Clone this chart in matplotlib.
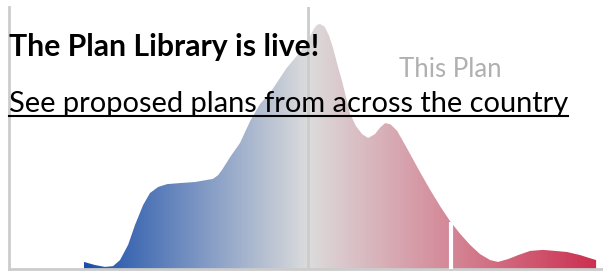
import numpy as np
import matplotlib
matplotlib.use("Agg")
import matplotlib.pyplot as plt
from matplotlib.colors import LinearSegmentedColormap
from matplotlib.lines import Line2D

# distribution of plan scores (x = score, y = relative density)
score = [-0.747, -0.71, -0.677, -0.65, -0.627, -0.60, -0.577, -0.55, -0.527, -0.50,
         -0.47, -0.427, -0.377, -0.317, -0.30, -0.287, -0.26, -0.227, -0.193, -0.16,
         -0.127, -0.10, -0.073, -0.027, 0.0, 0.007, 0.02, 0.03, 0.04, 0.055, 0.07,
         0.083, 0.10, 0.113, 0.14, 0.16, 0.18, 0.20, 0.223, 0.24, 0.257, 0.275, 0.297,
         0.33, 0.373, 0.407, 0.44, 0.473, 0.507, 0.54, 0.573, 0.607, 0.633, 0.667,
         0.70, 0.74, 0.783, 0.823, 0.863, 0.907, 0.96]
density = [0.027, 0.015, 0.008, 0.011, 0.034, 0.092, 0.168, 0.244, 0.290, 0.313,
           0.324, 0.328, 0.332, 0.344, 0.358, 0.378, 0.427, 0.481, 0.565, 0.630,
           0.672, 0.718, 0.765, 0.828, 0.870, 0.89, 0.918, 0.932, 0.935, 0.925, 0.89,
           0.844, 0.77, 0.718, 0.592, 0.545, 0.515, 0.500, 0.515, 0.540, 0.557, 0.552,
           0.527, 0.460, 0.370, 0.302, 0.240, 0.183, 0.134, 0.092, 0.057, 0.034, 0.027,
           0.038, 0.053, 0.069, 0.073, 0.069, 0.065, 0.053, 0.034]
this_plan = 0.475

title = "The Plan Library is live!"
link = "See proposed plans from across the country"
marker_label = "This Plan"

fig = plt.figure(figsize=(6.03, 2.76), dpi=100)
ax = fig.add_axes([9 / 603, 7 / 276, 594 / 603, 262 / 276])
ax.set_xlim(-0.997, 0.983)
ax.set_ylim(0, 1)

x = np.array(score)
y = np.array(density)
# gradient runs over the data range, neutral at a score of 0
mid = (0 - x.min()) / (x.max() - x.min())
cmap = LinearSegmentedColormap.from_list(
    "pl", [(0, "#1a4ea9"), (mid, "#dcdcdc"), (1, "#cc3050")])
poly = ax.fill_between(x, 0, y, color="none", lw=0)
grad = np.linspace(0, 1, 600).reshape(1, -1)
img = ax.imshow(grad, cmap=cmap, aspect="auto",
                extent=[x.min(), x.max(), 0, 1], zorder=1)
img.set_clip_path(poly.get_paths()[0], transform=ax.transData)
ax.set_xlim(-0.997, 0.983)
ax.set_ylim(0, 1)

ax.axvline(0, color="#cccccc", lw=2, zorder=3)
ax.vlines(this_plan, 0, np.interp(this_plan, x, y), color="white", lw=3, zorder=3)

for s in ["top", "right"]:
    ax.spines[s].set_visible(False)
for s in ["left", "bottom"]:
    ax.spines[s].set_color("#cccccc")
    ax.spines[s].set_linewidth(2)
ax.set_xticks([])
ax.set_yticks([])

plt.rcParams["font.family"] = ["Lato", "DejaVu Sans"]
fig.canvas.draw()
r = fig.canvas.get_renderer()


def fit(t, width):
    w = t.get_window_extent(r).width
    t.set_fontsize(t.get_fontsize() * width / w)


t1 = fig.text(9 / 603, (276 - 56) / 276, title, fontsize=19, fontweight="bold",
              color="black", va="baseline", zorder=5)
fit(t1, 308)
t2 = fig.text(9 / 603, (276 - 112) / 276, link, fontsize=19, color="black",
              va="baseline", zorder=5)
fit(t2, 559)
t3 = ax.text(this_plan, (269 - 77) / 262, marker_label, fontsize=19, color="#b0b0b0",
             ha="center", va="baseline", zorder=5)
fit(t3, 102)

fig.canvas.draw()
bb = t2.get_window_extent(r)
uy = (276 - 116) / 276
fig.add_artist(Line2D([bb.x0 / 603, bb.x1 / 603], [uy, uy], color="black", lw=1.5))

fig.savefig("out.png", dpi=100)
